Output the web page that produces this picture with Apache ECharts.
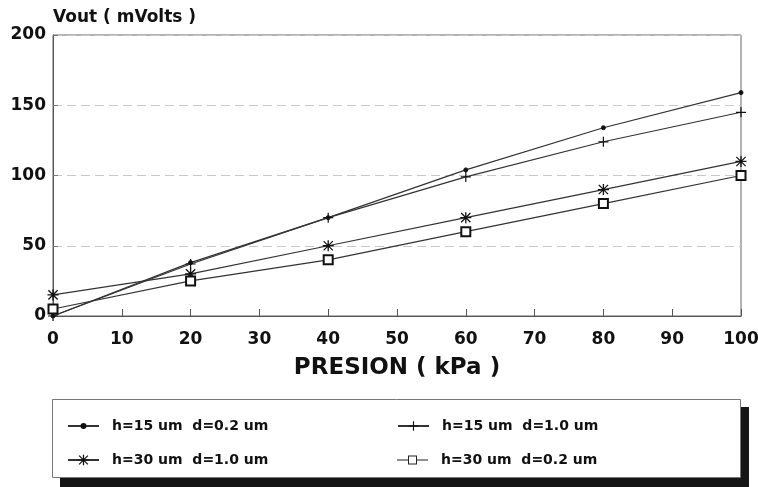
<!DOCTYPE html>
<html>
<head>
<meta charset="utf-8">
<script src="https://cdn.jsdelivr.net/npm/echarts@6/dist/echarts.min.js"></script>
<style>html,body{margin:0;padding:0;background:#fff;}#c{width:758px;height:487px;}</style>
</head>
<body>
<div id="c"></div>
<script>
var pressure = [0, 20, 40, 60, 80, 100];
var h15d02 = [0, 38, 70, 104, 134, 159];
var h15d10 = [0, 37, 70, 99, 124, 145];
var h30d10 = [15, 30, 50, 70, 90, 110];
var h30d02 = [5, 25, 40, 60, 80, 100];
var names = ['h=15 um  d=0.2 um', 'h=15 um  d=1.0 um', 'h=30 um  d=1.0 um', 'h=30 um  d=0.2 um'];
var yTicks = [0, 50, 100, 150, 200];
var xTicks = [0, 10, 20, 30, 40, 50, 60, 70, 80, 90, 100];

function pairs(v) { return pressure.map(function (p, i) { return [p, v[i]]; }); }

var plusPath = 'path://M4.4,0h1.2v10h-1.2zM0,4.4h10v1.2h-10z';
var starPath = 'path://M4.4,0h1.2v10h-1.2zM0,4.4h10v1.2h-10zM1.2,0.4L9.6,8.8L8.8,9.6L0.4,1.2zM8.8,0.4L9.6,1.2L1.2,9.6L0.4,8.8z';
var sqLegendPath = 'path://M0,4h11v1h-11zM20,4h11v1h-11zM11,0h9v9h-9zM12,1v7h7v-7z';

var lineCol = '#333';
function mk(name, data, symbol, size, extra) {
  var s = {
    name: name, type: 'line', data: pairs(data), symbol: symbol, symbolSize: size,
    lineStyle: { color: lineCol, width: 1.2 },
    itemStyle: { color: '#111', borderColor: '#111', borderWidth: 1 },
    emphasis: { disabled: true }, animation: false, z: 3
  };
  if (extra) Object.assign(s.itemStyle, extra);
  return s;
}

var numFont = 'DejaVu Sans, Liberation Sans, sans-serif';
var legText = { fontFamily: numFont, fontSize: 14, fontWeight: 'bold', color: '#111', padding: [0, 0, 0, 8] };
function leg(name, left, rowY, ih, extra) {
  var l = {
    data: [name], orient: 'horizontal', left: left, top: rowY - 7, padding: 0,
    itemWidth: 31, itemHeight: ih, selectedMode: false,
    textStyle: legText, z: 5
  };
  if (extra) Object.assign(l, extra);
  return l;
}

var chart = echarts.init(document.getElementById('c'));
chart.setOption({
  backgroundColor: '#fff',
  animation: false,
  title: {
    text: 'Vout ( mVolts )', left: 48, top: 4,
    textStyle: { fontFamily: numFont, fontSize: 17, fontWeight: 'bold', color: '#111' }
  },
  grid: { left: 53, right: 17, top: 35, bottom: 171, show: true, borderColor: '#666', borderWidth: 1, containLabel: false, outerBoundsMode: 'none' },
  xAxis: {
    type: 'value', min: 0, max: 100, interval: 10,
    name: 'PRESION ( kPa )', nameLocation: 'middle', nameGap: 41,
    nameTextStyle: { fontFamily: numFont, fontSize: 23, fontWeight: 'bold', color: '#111' },
    axisLine: { show: true, lineStyle: { color: '#555', width: 1 } },
    axisTick: { show: true, inside: true, length: 7, lineStyle: { color: '#555' } },
    axisLabel: { fontFamily: numFont, fontSize: 17, fontWeight: 'bold', color: '#111', margin: 15 },
    splitLine: { show: false }
  },
  yAxis: {
    type: 'value', min: 0, max: 200, interval: 50,
    axisLine: { show: true, lineStyle: { color: '#555', width: 1 } },
    axisTick: { show: true, inside: true, length: 5, lineStyle: { color: '#777' } },
    axisLabel: { fontFamily: numFont, fontSize: 17, fontWeight: 'bold', color: '#111', margin: 7 },
    splitLine: { show: true, lineStyle: { color: '#c8c8c8', type: [9, 5], width: 1 } }
  },
  graphic: [
    { type: 'rect', shape: { x: 60, y: 407, width: 689, height: 80 }, style: { fill: '#151515' }, z: 0, silent: true },
    { type: 'rect', shape: { x: 52.5, y: 399.5, width: 688, height: 78 }, style: { fill: '#fff', stroke: '#777', lineWidth: 1 }, z: 1, silent: true }
  ],
  legend: [
    leg(names[0], 67, 426, 5),
    leg(names[2], 67, 460, 13),
    leg(names[1], 397, 426, 12),
    leg(names[3], 397, 460, 9, { data: [{ name: names[3], icon: sqLegendPath }], itemStyle: { color: '#222', borderWidth: 0 } })
  ],
  series: [
    mk(names[0], h15d02, 'circle', 4),
    mk(names[1], h15d10, plusPath, 10, { borderWidth: 0 }),
    mk(names[2], h30d10, starPath, 11, { borderWidth: 0 }),
    mk(names[3], h30d02, 'emptyRect', 9, { color: '#111', borderColor: '#111', borderWidth: 0.9 })
  ]
});
</script>
</body>
</html>
